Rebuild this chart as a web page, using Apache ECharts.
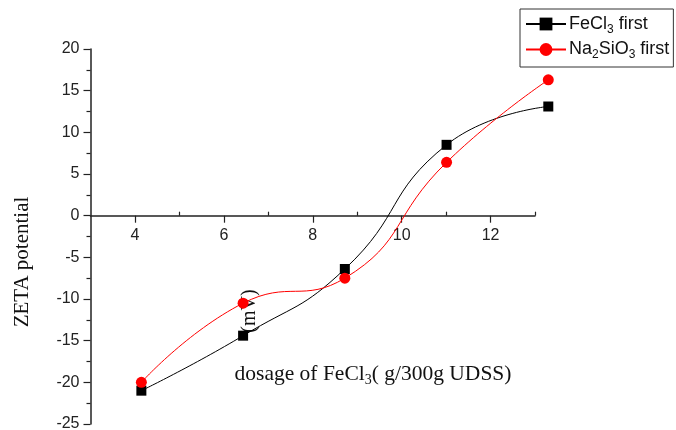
<!DOCTYPE html>
<html>
<head>
<meta charset="utf-8">
<script src="https://cdn.jsdelivr.net/npm/echarts@6/dist/echarts.min.js"></script>
<style>html,body{margin:0;padding:0;background:#fff}#c{width:676px;height:430px}</style>
</head>
<body>
<div id="c"></div>
<script>
// ---- data ----
const dosage = [4, 6, 8, 10, 12];
const fecl3First = [-21, -14.4, -6.4, 8.5, 13.1];
const na2sio3First = [-20, -10.5, -7.5, 6.4, 16.3];
const xTickLabels = [4, 6, 8, 10, 12];
const xMinorTicks = [5, 7, 9, 11, 13];
const seriesNames = ['FeCl3 first', 'Na2SiO3 first'];
const legendRich = {'FeCl3 first': 'FeCl{sub|3} first', 'Na2SiO3 first': 'Na{sub|2}SiO{sub|3} first'};
const yAxisTitle = 'ZETA potential';
const unitText = '(mV)';
const xAxisTitle = 'dosage of FeCl{sub|3}( g/300g UDSS)';

const pairs = (xs, ys) => xs.map((x, i) => [x, ys[i]]);
const axisCol = '#222';
const sans = 'Liberation Sans, Arial, sans-serif';
const serif = 'Liberation Serif, Times New Roman, serif';
const gridTop = 49, gridBottom = 6, zeroOffset = -208.3;

const chart = echarts.init(document.getElementById('c'), null, {renderer: 'canvas'});
chart.setOption({
  animation: false,
  backgroundColor: '#fff',
  grid: [
    {left: 90.5, right: 141, top: gridTop, bottom: gridBottom, containLabel: false, outerBoundsMode: 'none'},
    {left: 90.5, right: 127.7, top: gridTop, bottom: gridBottom, containLabel: false, outerBoundsMode: 'none'}
  ],
  xAxis: [
    {
      gridIndex: 0, type: 'value', min: 3, max: 13, position: 'bottom', offset: zeroOffset,
      axisLine: {show: true, onZero: false, lineStyle: {color: axisCol, width: 1.5}},
      axisTick: {show: true, inside: false, length: 7, customValues: xTickLabels, lineStyle: {color: axisCol, width: 1.2}},
      axisLabel: {show: true, customValues: xTickLabels, margin: 12, fontSize: 16, color: axisCol, fontFamily: sans},
      splitLine: {show: false}
    },
    {
      gridIndex: 0, type: 'value', min: 3, max: 13, position: 'bottom', offset: zeroOffset,
      axisLine: {show: false, onZero: false},
      axisTick: {show: true, inside: true, length: 4, customValues: xMinorTicks, lineStyle: {color: axisCol, width: 1.2}},
      axisLabel: {show: false},
      splitLine: {show: false}
    },
    {gridIndex: 1, type: 'value', min: 3, max: 12, show: false}
  ],
  yAxis: [
    {
      gridIndex: 0, type: 'value', min: -25, max: 20, interval: 5,
      axisLine: {show: true, onZero: false, lineStyle: {color: axisCol, width: 1.5}},
      axisTick: {show: true, length: 7, lineStyle: {color: axisCol, width: 1.2}},
      minorTick: {show: true, splitNumber: 2, length: 4, lineStyle: {color: axisCol, width: 1.2}},
      axisLabel: {margin: 11, fontSize: 16, color: axisCol, fontFamily: sans},
      splitLine: {show: false}
    },
    {gridIndex: 1, type: 'value', min: -25, max: 20, show: false}
  ],
  legend: {
    data: seriesNames,
    orient: 'vertical',
    left: 520, top: 9,
    padding: [6, 4, 6, 5],
    itemGap: 5,
    itemWidth: 40, itemHeight: 16,
    borderColor: '#333', borderWidth: 1,
    formatter: n => legendRich[n],
    textStyle: {
      fontSize: 18, color: '#111', fontFamily: sans, padding: [0, 0, 0, -2],
      rich: {sub: {fontSize: 12, fontFamily: sans, color: '#111', padding: [11, 0, 0, 0]}}
    }
  },
  series: [
    {
      name: seriesNames[0], type: 'line', xAxisIndex: 2, yAxisIndex: 1,
      data: pairs(dosage, fecl3First), smooth: 0.5,
      symbol: 'rect', symbolSize: 10,
      lineStyle: {color: '#000', width: 1}, itemStyle: {color: '#000'}, clip: false
    },
    {
      name: seriesNames[1], type: 'line', xAxisIndex: 2, yAxisIndex: 1,
      data: pairs(dosage, na2sio3First), smooth: 0.5,
      symbol: 'circle', symbolSize: 11,
      lineStyle: {color: '#ff0000', width: 1}, itemStyle: {color: '#ff0000'}, clip: false
    }
  ],
  graphic: [
    {type: 'text', x: 22, y: 262, rotation: Math.PI / 2,
     style: {text: yAxisTitle, font: '21px ' + serif, fill: '#111', align: 'center', verticalAlign: 'middle'}},
    {type: 'text', x: 250, y: 311, rotation: Math.PI / 2,
     style: {text: unitText, font: '20px ' + serif, fill: '#111', align: 'center', verticalAlign: 'middle'}},
    {type: 'text', x: 373, y: 374,
     style: {text: xAxisTitle, font: '21.5px ' + serif, fill: '#111', align: 'center', verticalAlign: 'middle',
       rich: {sub: {fontSize: 14, fontFamily: serif, fill: '#111', padding: [12, 0, 0, 0]}}}}
  ]
});
</script>
</body>
</html>
